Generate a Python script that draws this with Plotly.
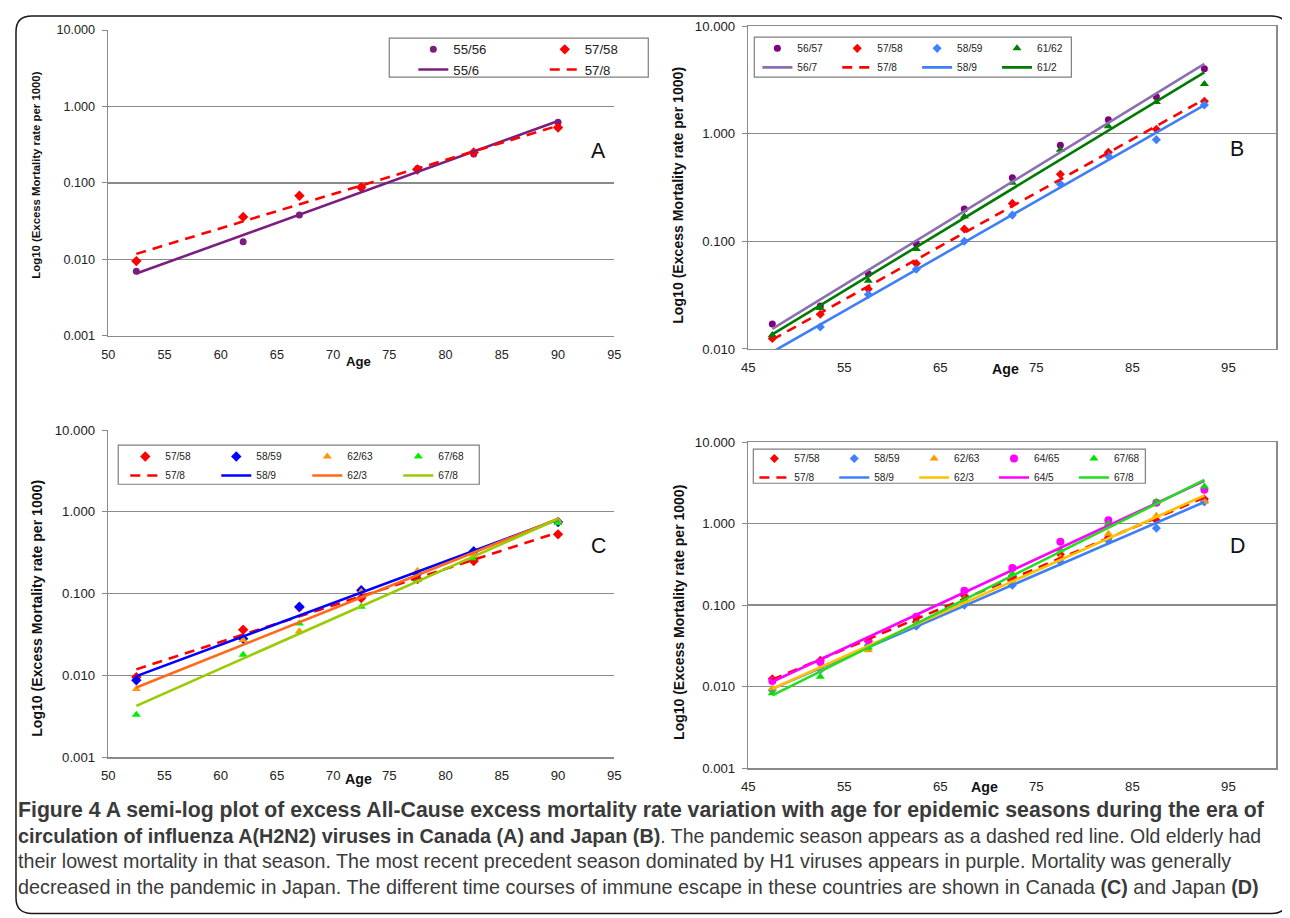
import numpy as np
import plotly.graph_objects as go

W, H = 1290, 918
# measured placement of the figure inside the photo: photo = A * figure_px + B
AX, BX = 0.989, 13.8
AY, BY = 0.981, 16.0
FS = 1.015                               # font compensation for that fit

# ---------------- data ----------------
ages_canada = [52.5, 62, 67, 72.5, 77.5, 82.5, 90]
ages_japan = [47.5, 52.5, 57.5, 62.5, 67.5, 72.5, 77.5, 82.5, 87.5, 92.5]

ca_55_56 = [0.007, 0.017, 0.038, 0.088, 0.155, 0.24, 0.62]
ca_57_58 = [0.0095, 0.036, 0.068, 0.088, 0.15, 0.25, 0.53]
ca_58_59 = [0.0087, 0.028, 0.069, 0.11, 0.175, 0.33, 0.75]
ca_62_63 = [0.0068, 0.027, 0.0345, 0.105, 0.19, 0.30, 0.78]
ca_67_68 = [0.0033, 0.0178, 0.043, 0.069, 0.147, 0.27, 0.73]

jp_56_57 = [0.017, 0.025, 0.05, 0.095, 0.2, 0.39, 0.78, 1.35, 2.2, 4.0]
jp_57_58 = [0.0125, 0.021, 0.036, 0.062, 0.13, 0.225, 0.42, 0.67, 1.1, 2.0]
jp_58_59 = [0.009, 0.016, 0.032, 0.055, 0.1, 0.175, 0.34, 0.62, 0.88, 1.85]
jp_61_62 = [0.0135, 0.024, 0.043, 0.085, 0.17, 0.35, 0.71, 1.17, 1.97, 2.9]
jp_62_63 = [0.0095, 0.017, 0.028, 0.06, 0.11, 0.2, 0.38, 0.75, 1.25, 1.85]
jp_64_65 = [0.0117, 0.02, 0.037, 0.072, 0.15, 0.285, 0.6, 1.1, 1.8, 2.6]
jp_67_68 = [0.0083, 0.0132, 0.03, 0.058, 0.12, 0.24, 0.48, 1.0, 1.85, 2.85]

y_tickvals = [0.001, 0.01, 0.1, 1, 10]
y_ticktext = ["0.001", "0.010", "0.100", "1.000", "10.000"]
x_ticks_canada = [50, 55, 60, 65, 70, 75, 80, 85, 90, 95]
x_ticks_japan = [45, 55, 65, 75, 85, 95]

y_title = "Log10 (Excess Mortality rate per 1000)"
x_title = "Age"

def seg(text, size, bold=False):
    s = f'<span style="font-size:{size * FS:.2f}px">{text}</span>'
    return f"<b>{s}</b>" if bold else s

caption_lines = [
    seg("Figure 4 A semi-log plot of excess All-Cause excess mortality rate variation with age for epidemic seasons during the era of", 20.95, True),
    seg("circulation of influenza A(H2N2) viruses in Canada (A) and Japan (B)", 19.5, True)
    + seg(". The pandemic season appears as a dashed red line. Old elderly had", 19.2),
    seg("their lowest mortality in that season. The most recent precedent season dominated by H1 viruses appears in purple. Mortality was generally", 19.42),
    seg("decreased in the pandemic in Japan. The different time courses of immune escape in these countries are shown in Canada ", 19.5)
    + seg("(C)", 19.5, True) + seg(" and Japan ", 19.5) + seg("(D)", 19.5, True),
]

# ---------------- helpers (target pixels -> figure paper fractions) ----------------
def fx(t):
    return (t - BX) / AX

def fy(t):
    return (t - BY) / AY

def px(t):
    return max(fx(t), 1.0) / W

def py(t):
    return 1 - max(fy(t), 1.0) / H

def trend(x, y):
    b, a = np.polyfit(x, np.log10(y), 1)
    xs = [x[0], x[-1]]
    return xs, [10 ** (a + b * v) for v in xs]

RED = "#FF0000"
DASH = "10px,7px"

panels = {
    "A": dict(xa="x", ya="y", leg="legend", ages=ages_canada, series=[
        dict(mk="55/56", ln="55/6", y=ca_55_56, sym="circle", mc="#7A1E80", lc="#7A1E80", dash="solid", ms=7),
        dict(mk="57/58", ln="57/8", y=ca_57_58, sym="diamond", mc=RED, lc=RED, dash=DASH, ms=8),
    ]),
    "B": dict(xa="x2", ya="y2", leg="legend2", ages=ages_japan, series=[
        dict(mk="56/57", ln="56/7", y=jp_56_57, sym="circle", mc="#800080", lc="#8B6FB0", dash="solid", ms=7),
        dict(mk="57/58", ln="57/8", y=jp_57_58, sym="diamond", mc=RED, lc=RED, dash=DASH, ms=7),
        dict(mk="58/59", ln="58/9", y=jp_58_59, sym="diamond", mc="#3F80FF", lc="#3F7FF5", dash="solid", ms=7),
        dict(mk="61/62", ln="61/2", y=jp_61_62, sym="triangle-up", mc="#008000", lc="#007A00", dash="solid", ms=8),
    ]),
    "C": dict(xa="x3", ya="y3", leg="legend3", ages=ages_canada, series=[
        dict(mk="57/58", ln="57/8", y=ca_57_58, sym="diamond", mc=RED, lc=RED, dash=DASH, ms=8),
        dict(mk="58/59", ln="58/9", y=ca_58_59, sym="diamond", mc="#0000FF", lc="#0000FF", dash="solid", ms=8),
        dict(mk="62/63", ln="62/3", y=ca_62_63, sym="triangle-up", mc="#FF9900", lc="#FF6A1A", dash="solid", ms=8),
        dict(mk="67/68", ln="67/8", y=ca_67_68, sym="triangle-up", mc="#00EE00", lc="#99CC00", dash="solid", ms=8),
    ]),
    "D": dict(xa="x4", ya="y4", leg="legend4", ages=ages_japan, series=[
        dict(mk="57/58", ln="57/8", y=jp_57_58, sym="diamond", mc=RED, lc=RED, dash=DASH, ms=7),
        dict(mk="58/59", ln="58/9", y=jp_58_59, sym="diamond", mc="#3F80FF", lc="#3F7FF5", dash="solid", ms=7),
        dict(mk="62/63", ln="62/3", y=jp_62_63, sym="triangle-up", mc="#FF9900", lc="#FFC000", dash="solid", ms=8),
        dict(mk="64/65", ln="64/5", y=jp_64_65, sym="circle", mc="#FF00FF", lc="#FF00FF", dash="solid", ms=8),
        dict(mk="67/68", ln="67/8", y=jp_67_68, sym="triangle-up", mc="#00E000", lc="#22DD22", dash="solid", ms=8),
    ]),
}

fig = go.Figure()

for key, p in panels.items():
    for i, s in enumerate(p["series"]):
        fig.add_trace(go.Scatter(
            x=p["ages"], y=s["y"], mode="markers", name=s["mk"],
            legendgroup=f"{key}{i}", legend=p["leg"],
            marker=dict(symbol=s["sym"], color=s["mc"], size=s["ms"], line=dict(width=0)),
            xaxis=p["xa"], yaxis=p["ya"], cliponaxis=True, hoverinfo="skip"))
    for i, s in enumerate(p["series"]):
        tx, ty = trend(p["ages"], s["y"])
        fig.add_trace(go.Scatter(
            x=tx, y=ty, mode="lines", name=s["ln"],
            legendgroup=f"{key}{i}", legend=p["leg"],
            line=dict(color=s["lc"], width=2.6, dash=s["dash"]),
            xaxis=p["xa"], yaxis=p["ya"], hoverinfo="skip"))

# ---------------- axes ----------------
GRID = "#8a8a8a"
AXL = "#8a8a8a"
TICKC = "#222222"

def xaxis_cfg(dom, rng, ticks, fnt, box, anchor):
    return dict(domain=[px(dom[0]), px(dom[1])], range=rng, tickvals=ticks,
                showgrid=False, zeroline=False, showline=True, linecolor=AXL, linewidth=1.5,
                mirror=box, ticks="outside", ticklen=6, tickcolor="rgba(0,0,0,0)",
                tickfont=fnt, anchor=anchor, fixedrange=True)

def yaxis_cfg(dom, rng, fnt, box, anchor):
    return dict(domain=[py(dom[1]), py(dom[0])], type="log", range=rng,
                tickvals=y_tickvals, ticktext=y_ticktext,
                showgrid=True, gridcolor=GRID, gridwidth=1.2, zeroline=False,
                showline=True, linecolor=AXL, linewidth=1.5, mirror=box,
                ticks="outside", ticklen=5, tickcolor=AXL, tickfont=fnt,
                ticklabelstandoff=4, anchor=anchor, fixedrange=True)

fontA = dict(family="Liberation Sans, Arial", size=12.5 * FS, color=TICKC)
sans = dict(family="Liberation Sans, Arial", size=13 * FS, color=TICKC)

# target-pixel boxes of the plot areas: (x0, x1), (y_top, y_bottom)
boxA = ((107, 613), (31, 336))
boxB = ((747, 1275), (27, 349))
boxC = ((107, 613), (430, 756))
boxD = ((747, 1275), (442, 767))

fig.update_layout(
    xaxis=xaxis_cfg(boxA[0], [50, 95], x_ticks_canada, fontA, False, "y"),
    yaxis=yaxis_cfg(boxA[1], [-3, 1], fontA, False, "x"),
    xaxis2=xaxis_cfg(boxB[0], [45, 100], x_ticks_japan, sans, True, "y2"),
    yaxis2=yaxis_cfg(boxB[1], [-2, 1], sans, True, "x2"),
    xaxis3=xaxis_cfg(boxC[0], [50, 95], x_ticks_canada, sans, False, "y3"),
    yaxis3=yaxis_cfg(boxC[1], [-3, 1], sans, False, "x3"),
    xaxis4=xaxis_cfg(boxD[0], [45, 100], x_ticks_japan, sans, True, "y4"),
    yaxis4=yaxis_cfg(boxD[1], [-3, 1], sans, True, "x4"),
)

# ---------------- legends ----------------
def legend_cfg(line_start, row1, fsize, pitch):
    f = fsize * FS
    h = max(f * 1.3, 16) + 3
    top = fy(row1) - 5 - h / 2
    return dict(x=(fx(line_start) - 5) / W, y=1 - top / H, xanchor="left", yanchor="top",
                orientation="h", traceorder="grouped", tracegroupgap=0,
                bgcolor="rgba(0,0,0,0)", borderwidth=0,
                font=dict(family="Liberation Sans, Arial", size=f, color="#222222"),
                entrywidth=pitch / AX - 45, entrywidthmode="pixels", itemclick=False,
                itemdoubleclick=False)

fig.update_layout(
    showlegend=True,
    legend=legend_cfg(417, 50, 13, 130),
    legend2=legend_cfg(761, 49, 10, 79),
    legend3=legend_cfg(129, 456, 10, 90),
    legend4=legend_cfg(758, 458, 10, 79),
)

shapes = []
# outer rounded frame
X0, X1 = px(9), px(1286)
Y0, Y1 = py(7), py(912)
rx, ry = 16 / W, 16 / H
path = (f"M {X0 + rx},{Y0} L {X1 - rx},{Y0} Q {X1},{Y0} {X1},{Y0 - ry} "
        f"L {X1},{Y1 + ry} Q {X1},{Y1} {X1 - rx},{Y1} "
        f"L {X0 + rx},{Y1} Q {X0},{Y1} {X0},{Y1 + ry} "
        f"L {X0},{Y0 - ry} Q {X0},{Y0} {X0 + rx},{Y0} Z")
shapes.append(dict(type="path", xref="paper", yref="paper", path=path,
                   line=dict(color="#1a1a1a", width=1.5), layer="below"))

# legend boxes
for (lx0, lx1, ly0, ly1) in [(388, 647, 39, 78), (753, 1070, 38, 78),
                             (117, 478, 445, 484), (752, 1144, 449, 483)]:
    shapes.append(dict(type="rect", xref="paper", yref="paper",
                       x0=px(lx0), x1=px(lx1), y0=py(ly1), y1=py(ly0),
                       line=dict(color="#7f7f7f", width=1.2), fillcolor="white", layer="above"))

# Excel-style horizontal-axis tick marks where the axis crosses at 1.0
for xa, ya, ticks in [("x", "y", x_ticks_canada[1:]), ("x2", "y2", x_ticks_japan[1:]),
                      ("x3", "y3", x_ticks_canada[1:]), ("x4", "y4", x_ticks_japan[1:])]:
    for t in ticks:
        shapes.append(dict(type="line", xref=xa, yref=ya, x0=t, x1=t,
                           ysizemode="pixel", yanchor=1, y0=0, y1=-6,
                           line=dict(color=AXL, width=1.2), layer="above"))

fig.update_layout(shapes=shapes)

# ---------------- annotations ----------------
ann = []
for letter, (xx, yy) in {"A": (597, 152), "B": (1236, 150), "C": (597, 546), "D": (1236, 546)}.items():
    ann.append(dict(text=letter, x=px(xx), y=py(yy), xref="paper", yref="paper",
                    showarrow=False, xanchor="center", yanchor="middle",
                    font=dict(family="Liberation Sans, Arial", size=21 * FS, color="#111111")))

for (xx, yy, fs) in [(35, 176, 11.2), (677, 196, 13.9), (35, 608, 13.9), (677, 612, 13.8)]:
    ann.append(dict(text=f"<b>{y_title}</b>", x=px(xx), y=py(yy), xref="paper", yref="paper",
                    showarrow=False, textangle=-90, xanchor="center", yanchor="middle",
                    font=dict(family="Liberation Sans, Arial", size=fs * FS, color="#111111")))

for (xx, yy, fs) in [(357, 362, 13), (1004, 369, 14), (357, 778, 14), (983, 786, 14)]:
    ann.append(dict(text=f"<b>{x_title}</b>", x=px(xx), y=py(yy), xref="paper", yref="paper",
                    showarrow=False, xanchor="center", yanchor="middle",
                    font=dict(family="Liberation Sans, Arial", size=fs * FS, color="#111111")))

for i, line in enumerate(caption_lines):
    ann.append(dict(text=line, x=px(12), y=py(809 + 25.5 * i), xref="paper", yref="paper",
                    showarrow=False, xanchor="left", yanchor="middle", align="left",
                    font=dict(family="Liberation Sans, Arial", size=19.5 * FS, color="#3a3a3a")))

fig.update_layout(annotations=ann)

fig.update_layout(
    width=W, height=H, autosize=False,
    margin=dict(l=0, r=0, t=0, b=0, pad=0),
    paper_bgcolor="white", plot_bgcolor="white",
)

fig.write_html("out.html", config={"displayModeBar": False, "staticPlot": True})
